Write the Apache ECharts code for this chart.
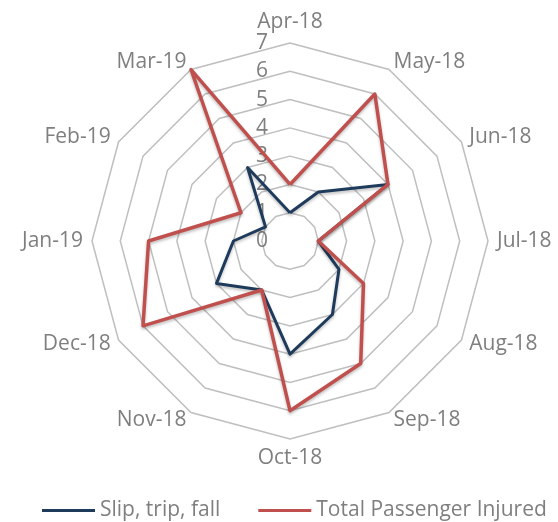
<!DOCTYPE html>
<html>
<head>
<meta charset="utf-8">
<script src="https://cdn.jsdelivr.net/npm/echarts@6/dist/echarts.min.js"></script>
<style>
  html, body { margin: 0; padding: 0; background: #fff; }
  #chart { width: 558px; height: 522px; }
</style>
</head>
<body>
<div id="chart"></div>
<script>
// months, clockwise from the top
var months = ['Apr-18', 'May-18', 'Jun-18', 'Jul-18', 'Aug-18', 'Sep-18',
              'Oct-18', 'Nov-18', 'Dec-18', 'Jan-19', 'Feb-19', 'Mar-19'];
var slipTripFall = [1, 2, 4, 1, 2, 3, 4, 2, 3, 2, 1, 3];
var totalInjured = [2, 6, 4, 1, 3, 5, 6, 2, 6, 5, 2, 7];
var axisMax = 7;

var textColor = '#7f7f7f';
var font = 'Open Sans';

// echarts radar goes counter-clockwise, so flip the order (keep Apr on top)
var order = [0];
for (var i = months.length - 1; i > 0; i--) order.push(i);
function reorder(arr) {
  return order.map(function (k) { return arr[k]; });
}

var indicators = reorder(months).map(function (m, idx) {
  var ind = { name: m, min: 0, max: axisMax };
  if (idx === 0) {
    ind.axisLabel = { show: true };  // numbers only on the top spoke
  }
  return ind;
});

var chart = echarts.init(document.getElementById('chart'));
chart.setOption({
  animation: false,
  legend: {
    top: 500,
    left: 42,
    padding: 0,
    icon: 'rect',
    itemWidth: 53,
    itemHeight: 3,
    itemGap: 38,
    textStyle: { color: textColor, fontSize: 21, fontFamily: font }
  },
  radar: {
    center: [290, 241],
    radius: 198,
    startAngle: 90,
    shape: 'polygon',
    splitNumber: 7,
    indicator: indicators,
    axisName: { color: textColor, fontSize: 21, fontFamily: font },
    nameGap: 9,
    axisLine: { show: false },
    axisTick: { show: false },
    axisLabel: {
      show: false,
      color: textColor,
      fontSize: 21,
      fontFamily: font,
      margin: 22
    },
    splitLine: { lineStyle: { color: '#bfbfbf', width: 1.5 } },
    splitArea: { show: false }
  },
  series: [{
    type: 'radar',
    symbol: 'none',
    data: [{
      name: 'Slip, trip, fall',
      value: reorder(slipTripFall),
      lineStyle: { color: '#1f3b5c', width: 3, shadowBlur: 3, shadowColor: 'rgba(0,0,0,0.25)', shadowOffsetY: 2 },
      itemStyle: { color: '#1f3b5c' }
    }, {
      name: 'Total Passenger Injured',
      value: reorder(totalInjured),
      lineStyle: { color: '#c0504d', width: 3.5, shadowBlur: 3, shadowColor: 'rgba(0,0,0,0.25)', shadowOffsetY: 2 },
      itemStyle: { color: '#c0504d' }
    }]
  }]
});
</script>
</body>
</html>
